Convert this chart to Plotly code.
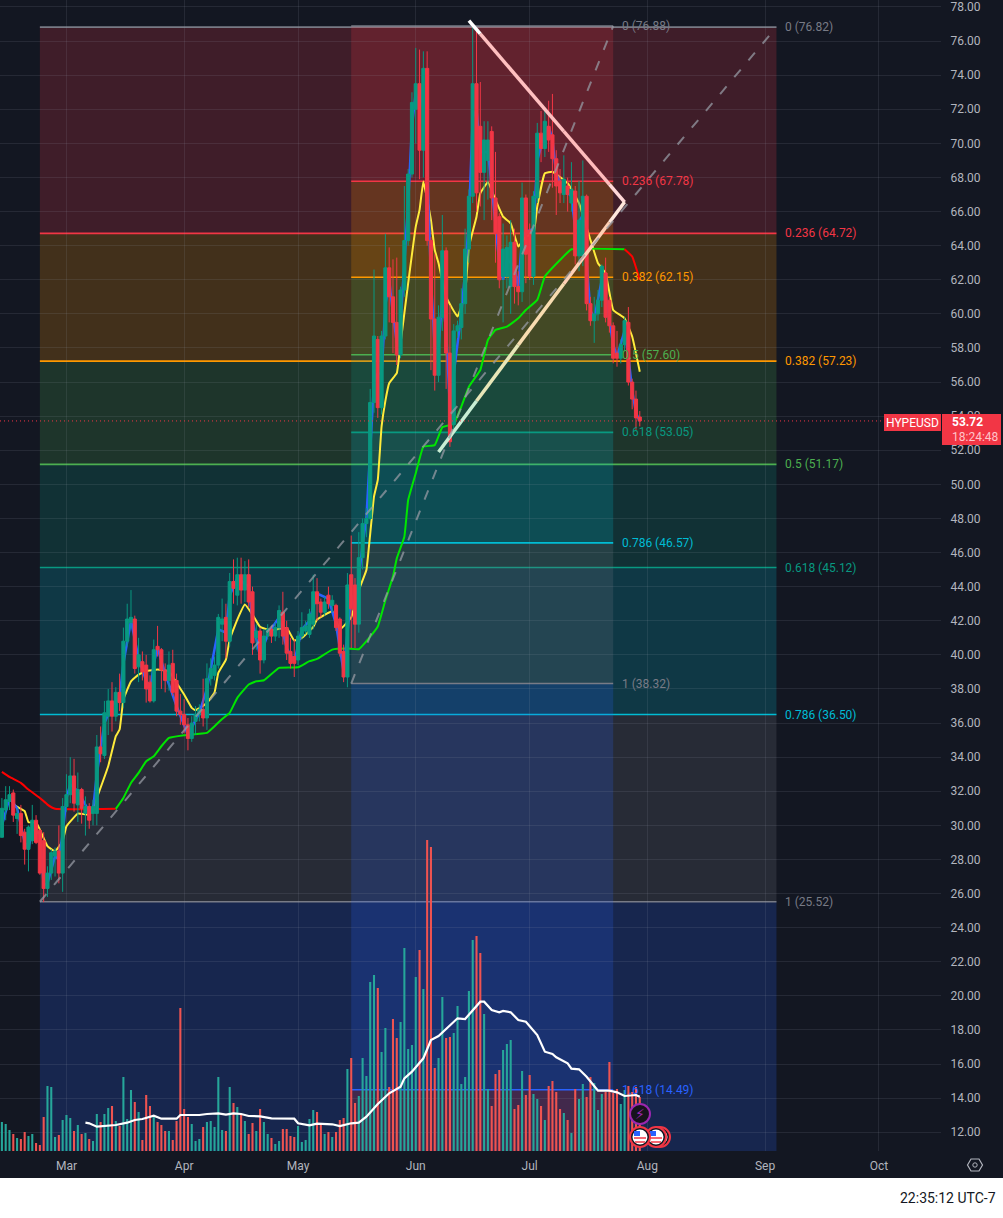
import pandas as pd
import plotly.graph_objects as go

# Daily HYPEUSD candles (Feb 12 -> Jul 30)
opens = [
    29.3, 30.9, 31.4, 31.9, 30.4, 30.7, 29.6, 28.6, 29.1, 30.3, 29.7, 29.1, 26.3, 27.2, 28.2, 28.5, 27.2,
    31.1, 31.8, 32.9, 31.2, 32.1, 30.7, 31.1, 30.7, 30.7, 34.6, 34.1, 36.4, 37.3, 36.4, 37.8, 37.2, 40.8, 41.9, 42.1, 39.3, 39.6, 39.4, 38.4, 37.3, 40.5, 40.3, 39.1, 38.5, 39.5, 38.5, 36.7,
    36.5, 35.9, 35.1, 36.1, 36.5, 36.8, 36.3, 38.6, 38.8, 39.4, 41.8, 42.2, 40.8, 44.3, 43.5, 44.7, 43.8, 44.7, 43.7, 41.0, 41.4, 39.7, 41.1, 41.5, 41.1, 41.6, 42.5, 41.6, 40.2, 39.9,
    39.7, 41.1, 41.4, 41.2, 41.8, 43.7, 43.1, 42.5, 43.5, 42.9, 42.9, 42.1, 40.2, 38.7, 44.7, 44.1, 41.8, 45.7, 47.7, 48.0, 54.8, 58.5, 54.5, 58.7, 62.7, 61.0, 59.5, 57.6, 61.4, 64.3, 68.2,
    72.0, 73.5, 69.6, 74.4, 64.3, 59.7, 56.4, 59.8, 63.7, 57.7, 53.5, 59.0, 59.2, 60.6, 63.8, 66.9, 73.5, 71.0, 68.3, 69.0, 70.7, 66.8, 65.7, 62.2, 62.2, 61.6, 64.2, 61.6, 61.3, 66.8,
    64.9, 62.2, 66.8, 70.6, 69.7, 71.0, 70.5, 69.1, 67.8, 67.0, 67.5, 66.5, 67.2, 63.4, 63.4, 66.9, 60.6, 59.6, 60.0, 60.8, 62.4, 60.8, 59.3, 57.7, 57.4, 58.2, 59.5, 56.0, 55.0, 53.95,
]
highs = [
    31.6, 32.3, 32.3, 32.1, 31.0, 31.2, 29.8, 30.0, 31.2, 30.6, 29.8, 29.6, 27.6, 28.6, 28.7, 30.0, 31.6,
    33.0, 34.0, 33.9, 33.1, 32.2, 31.7, 31.3, 31.5, 35.3, 35.8, 37.3, 38.0, 38.4, 38.1, 38.9, 41.6, 43.0, 43.8, 42.3, 41.0, 40.2, 40.0, 38.8, 40.9, 41.7, 40.4, 39.5, 40.2, 40.3, 38.9, 37.7,
    37.4, 36.3, 36.4, 37.0, 37.1, 38.6, 39.5, 39.8, 39.9, 42.4, 43.3, 43.0, 44.8, 45.6, 45.7, 45.7, 45.5, 45.6, 44.0, 41.8, 41.6, 41.5, 41.8, 41.7, 41.9, 42.9, 43.7, 42.0, 41.0, 40.9,
    41.4, 42.5, 42.0, 42.7, 44.7, 44.5, 43.3, 43.4, 44.0, 43.5, 43.0, 42.2, 40.6, 44.8, 47.0, 44.5, 47.2, 48.0, 48.6, 55.6, 62.6, 58.7, 59.0, 64.7, 63.9, 63.2, 63.3, 61.6, 67.5, 68.5, 73.0,
    75.6, 75.5, 75.4, 75.4, 64.5, 63.5, 60.5, 65.8, 63.9, 60.5, 59.4, 59.6, 61.5, 65.0, 67.3, 76.8, 76.82, 73.6, 71.3, 71.3, 71.0, 69.5, 65.9, 65.3, 64.6, 65.5, 65.0, 62.5, 67.7, 67.0,
    65.3, 67.2, 71.2, 71.9, 72.1, 72.5, 72.9, 69.6, 68.5, 69.3, 68.0, 68.9, 67.5, 67.8, 69.0, 67.0, 61.0, 61.0, 61.4, 62.9, 63.3, 61.0, 59.5, 59.0, 58.5, 59.8, 60.4, 56.2, 55.5, 54.3,
]
lows = [
    29.3, 30.3, 30.9, 30.2, 29.5, 29.0, 27.7, 27.3, 28.9, 28.9, 27.1, 25.5, 25.8, 26.8, 27.0, 26.6, 26.1,
    30.8, 31.3, 30.8, 30.2, 30.1, 29.4, 29.8, 30.0, 30.0, 33.7, 33.9, 35.3, 35.5, 36.1, 36.7, 36.9, 40.5, 41.5, 38.9, 38.4, 38.5, 37.2, 37.2, 37.2, 39.9, 38.0, 37.8, 37.9, 37.6, 36.4, 35.9,
    35.4, 34.4, 34.9, 35.3, 36.1, 35.8, 35.6, 38.2, 38.5, 39.2, 40.8, 39.8, 40.5, 43.0, 42.9, 43.0, 43.1, 42.8, 40.0, 40.3, 38.9, 39.5, 40.9, 40.7, 40.8, 41.0, 40.6, 39.7, 39.2, 38.7,
    39.4, 40.9, 41.2, 41.0, 41.5, 42.0, 42.2, 42.3, 42.7, 42.5, 41.4, 39.9, 38.4, 38.1, 40.4, 40.4, 41.3, 45.0, 46.9, 47.9, 54.2, 53.9, 54.1, 58.5, 59.5, 57.7, 57.0, 57.4, 61.0, 64.0, 68.0,
    70.0, 67.9, 68.0, 64.0, 56.7, 55.5, 56.0, 59.0, 55.6, 52.2, 53.1, 58.6, 58.5, 60.0, 63.0, 66.5, 66.0, 66.3, 65.5, 66.7, 65.5, 63.0, 61.5, 59.5, 61.5, 60.0, 60.6, 60.5, 60.7, 61.8,
    62.0, 61.7, 66.5, 68.9, 69.2, 69.5, 67.4, 65.8, 66.5, 66.5, 66.0, 66.0, 62.9, 62.5, 62.8, 60.2, 59.3, 58.3, 59.6, 60.4, 59.5, 58.9, 57.1, 56.9, 57.1, 57.8, 55.8, 54.4, 53.2, 53.4,
]
closes = [
    31.0, 31.5, 31.8, 30.6, 30.7, 29.4, 28.6, 29.9, 30.3, 29.0, 27.2, 26.3, 27.2, 28.4, 28.5, 27.2, 31.1,
    31.8, 32.9, 31.3, 32.1, 31.0, 31.1, 30.3, 31.1, 34.6, 34.2, 36.6, 37.3, 36.4, 37.8, 37.2, 40.8, 42.1, 42.2, 39.2, 40.0, 39.0, 38.0, 37.3, 40.3, 40.3, 39.1, 38.5, 39.4, 37.8, 36.7, 36.5,
    35.9, 35.1, 36.0, 36.5, 36.8, 36.3, 38.6, 39.2, 39.4, 42.2, 42.1, 40.8, 44.3, 43.9, 44.7, 43.8, 44.7, 43.1, 40.7, 41.4, 39.7, 41.1, 41.5, 41.1, 41.6, 42.6, 41.1, 40.1, 39.5, 39.5,
    41.1, 41.6, 41.7, 42.4, 43.7, 43.0, 42.5, 43.1, 43.0, 43.2, 41.6, 40.1, 38.7, 44.1, 42.7, 41.8, 45.7, 47.7, 48.0, 54.8, 58.7, 54.5, 58.7, 62.7, 61.0, 59.5, 57.6, 61.4, 64.3, 68.2, 72.4,
    73.5, 69.6, 74.4, 64.3, 59.7, 56.4, 59.8, 63.7, 57.7, 52.5, 59.0, 59.3, 60.6, 63.8, 66.9, 73.5, 67.1, 68.3, 70.2, 70.2, 66.8, 64.7, 62.0, 63.8, 63.9, 64.2, 61.6, 61.3, 66.8, 63.5,
    62.2, 66.9, 70.6, 69.7, 71.3, 70.2, 69.1, 67.5, 67.1, 67.9, 67.0, 67.3, 63.4, 65.5, 66.9, 60.6, 59.6, 60.0, 60.8, 62.8, 59.8, 59.3, 57.4, 57.4, 58.2, 59.6, 56.0, 55.0, 53.9, 53.72,
]
volumes = [
    2.9, 2.7, 2.1, 1.7, 1.3, 1.2, 1.9, 1.5, 1.7, 0.8, 0.6, 3.4, 6.5, 6.4, 1.4, 1.6, 3.1,
    3.6, 3.3, 2.0, 2.6, 1.7, 1.8, 1.2, 1.0, 3.7, 2.9, 3.7, 4.3, 4.5, 3.0, 2.5, 7.4, 3.2, 6.1, 4.9, 3.9, 1.1, 5.6, 4.5, 3.5, 2.9, 2.6, 2.0, 2.0, 1.1, 3.0, 14.3,
    4.2, 3.4, 2.7, 1.0, 1.2, 2.4, 2.9, 3.0, 2.4, 7.4, 2.1, 2.0, 6.4, 4.8, 4.4, 3.7, 3.0, 1.7, 2.8, 2.0, 4.2, 2.9, 1.7, 1.3, 0.7, 1.0, 2.2, 2.2, 1.5, 1.4,
    2.5, 0.9, 1.1, 3.2, 4.1, 3.9, 2.7, 1.7, 1.9, 1.4, 1.9, 3.1, 3.3, 8.2, 9.3, 4.8, 5.5, 9.3, 7.5, 16.9, 17.6, 16.3, 9.9, 12.3, 6.4, 13.2, 11.3, 12.9, 20.3, 10.2, 10.6,
    17.4, 20.1, 16.2, 31.1, 30.4, 8.3, 9.3, 15.4, 11.3, 11.4, 11.8, 14.5, 6.7, 7.4, 16.0, 21.1, 21.5, 19.8, 13.7, 6.2, 4.5, 7.7, 8.1, 10.1, 10.7, 11.1, 4.2, 4.6, 8.0, 5.6,
    7.6, 5.7, 5.2, 4.5, 3.1, 6.5, 7.0, 5.9, 4.2, 3.8, 3.1, 1.8, 6.2, 5.2, 6.7, 5.4, 7.4, 6.8, 4.1, 5.7, 5.9, 8.9, 5.8, 6.2, 4.7, 6.1, 6.5, 5.9, 6.4, 5.4,
]
dates = pd.date_range("2025-02-12", periods=len(closes), freq="D")

# Moving averages, read at their turning points
yellow_x = ["02-15", "02-18", "02-19", "02-21", "02-22", "02-24", "02-26", "02-28", "03-01", "03-04", "03-07", "03-09", "03-12", "03-14", "03-15", "03-16", "03-18", "03-20", "03-22", "03-25", "03-28", "03-30", "04-01", "04-03", "04-04", "04-07", "04-09", "04-10", "04-12", "04-13", "04-15", "04-17", "04-19", "04-21", "04-24", "04-28", "04-30", "05-02", "05-05", "05-06", "05-10", "05-12", "05-15", "05-17", "05-19", "05-20", "05-21", "05-22", "05-23", "05-24", "05-25", "05-27", "05-28", "05-30", "06-01", "06-02", "06-03", "06-05", "06-06", "06-07", "06-09", "06-12", "06-14", "06-15", "06-17", "06-18", "06-20", "06-22", "06-24", "06-26", "06-28", "06-30", "07-02", "07-03", "07-05", "07-07", "07-11", "07-14", "07-17", "07-19", "07-21", "07-23", "07-26", "07-28", "07-30"]
yellow_y = [31.22, 30.83, 30.18, 30.18, 29.75, 28.78, 28.48, 29.07, 29.95, 30.69, 30.63, 31.61, 33.47, 35.23, 35.62, 37.38, 38.45, 38.84, 39.04, 39.14, 39.04, 38.36, 37.67, 36.89, 36.75, 37.18, 37.8, 38.94, 39.72, 40.9, 42.07, 42.95, 42.36, 41.64, 41.44, 41.58, 40.84, 40.99, 41.64, 42.07, 42.56, 41.48, 42.2, 43.8, 44.98, 47.1, 49.28, 50.26, 53.4, 54.9, 55.93, 56.52, 58.28, 61.8, 65.12, 66.1, 67.76, 65.5, 63.75, 62.97, 61.0, 59.84, 61.21, 63.95, 65.7, 67.07, 67.72, 66.68, 65.7, 65.31, 63.95, 64.53, 64.73, 66.29, 68.25, 68.34, 67.66, 66.49, 64.34, 62.97, 62.38, 60.23, 59.74, 58.67, 56.61]

long_ma_red_x = ["02-12", "02-14", "02-17", "02-19", "02-22", "02-24", "02-26", "03-14"]
long_ma_red_y = [33.14, 32.84, 32.49, 32.1, 31.61, 31.22, 30.97, 30.97]
long_ma_green_x = ["03-14", "03-16", "03-18", "03-20", "03-22", "03-24", "03-26", "03-28", "04-01", "04-07", "04-09", "04-11", "04-13", "04-15", "04-18", "04-20", "04-22", "04-26", "05-01", "05-04", "05-06", "05-10", "05-14", "05-17", "05-20", "05-22", "05-24", "05-26", "05-27", "05-29", "05-30", "06-01", "06-03", "06-06", "06-08", "06-11", "06-13", "06-15", "06-18", "06-20", "06-22", "06-25", "06-28", "06-30", "07-03", "07-05", "07-09", "07-12", "07-26"]
long_ma_green_y = [30.97, 31.61, 32.49, 33.08, 33.76, 34.05, 34.64, 35.13, 35.29, 35.42, 35.81, 36.24, 36.6, 37.48, 38.26, 38.45, 38.51, 39.24, 39.27, 39.63, 39.76, 40.31, 40.37, 40.33, 41.07, 41.66, 43.2, 44.59, 45.66, 46.93, 49.08, 50.65, 52.21, 52.3, 53.35, 53.55, 54.56, 55.73, 56.71, 58.47, 59.06, 59.25, 59.74, 60.23, 60.82, 62.19, 63.16, 63.79, 63.79]
long_ma_end_x = ["07-26", "07-28", "07-30"]
long_ma_end_y = [63.79, 63.36, 61.99]

blue_x = ["02-12", "02-14", "02-16", "02-18", "02-19", "02-20", "02-22", "02-23", "02-24", "02-26", "02-27", "02-28", "03-01", "03-02", "03-04", "03-07", "03-08", "03-09", "03-11", "03-13", "03-15", "03-16", "03-18", "03-20", "03-23", "03-24", "03-25", "03-27", "03-30", "04-02", "04-05", "04-07", "04-10", "04-12", "04-13", "04-15", "04-18", "04-19", "04-21", "04-23", "04-26", "04-28", "04-30", "05-02", "05-04", "05-06", "05-09", "05-11", "05-13", "05-14", "05-15", "05-16", "05-17", "05-18", "05-19", "05-20", "05-21", "05-22", "05-23", "05-24", "05-25", "05-26", "05-27", "05-28", "05-29", "05-30", "05-31", "06-01", "06-02", "06-03", "06-04", "06-05", "06-06", "06-07", "06-08", "06-09", "06-10", "06-11", "06-13", "06-14", "06-15", "06-16", "06-17", "06-18", "06-19", "06-20", "06-21", "06-23", "06-24", "06-25", "06-27", "06-28", "06-29", "06-30", "07-02", "07-03", "07-05", "07-06", "07-07", "07-08", "07-10", "07-12", "07-13", "07-15", "07-16", "07-17", "07-18", "07-20", "07-21", "07-23", "07-24", "07-26", "07-27", "07-28", "07-29", "07-30"]
blue_y = [30.0, 31.6, 31.0, 29.0, 28.6, 29.8, 29.5, 26.5, 26.6, 28.2, 28.0, 29.5, 31.6, 32.4, 32.0, 30.8, 30.9, 33.0, 36.0, 37.0, 37.5, 39.5, 42.0, 39.8, 37.8, 39.5, 40.4, 38.9, 37.0, 35.3, 36.6, 38.0, 41.5, 41.3, 43.5, 44.5, 44.0, 42.0, 39.9, 41.2, 42.2, 40.4, 39.6, 41.5, 42.0, 43.6, 43.3, 41.8, 39.0, 41.5, 43.5, 42.5, 44.5, 46.5, 48.0, 52.0, 56.0, 56.5, 56.5, 60.5, 62.0, 60.0, 58.3, 59.5, 63.0, 66.5, 71.0, 73.0, 72.0, 73.5, 69.0, 62.0, 58.0, 58.0, 61.0, 59.0, 54.5, 56.5, 60.0, 62.5, 65.5, 71.5, 72.0, 69.5, 69.5, 69.5, 67.5, 63.0, 62.0, 63.2, 62.8, 61.5, 64.5, 64.8, 65.0, 69.0, 70.6, 71.0, 70.2, 68.2, 67.3, 66.9, 65.0, 65.8, 63.0, 60.2, 59.7, 62.0, 61.0, 58.2, 57.5, 59.0, 57.5, 55.5, 54.2, 53.7]

vol_ma_x = ["03-06", "03-07", "03-09", "03-14", "03-17", "03-19", "03-21", "03-24", "03-26", "03-30", "03-31", "04-05", "04-07", "04-10", "04-12", "04-14", "04-16", "04-18", "04-21", "04-24", "04-30", "05-01", "05-04", "05-06", "05-10", "05-12", "05-15", "05-17", "05-19", "05-22", "05-25", "05-28", "05-29", "05-31", "06-03", "06-05", "06-07", "06-09", "06-12", "06-14", "06-18", "06-19", "06-21", "06-23", "06-24", "06-26", "06-28", "06-30", "07-03", "07-05", "07-07", "07-08", "07-11", "07-12", "07-14", "07-16", "07-19", "07-22", "07-24", "07-26", "07-29", "07-30"]
vol_ma_y = [2.83, 2.77, 2.43, 2.6, 2.83, 3.1, 3.2, 3.53, 3.23, 3.23, 3.6, 3.6, 3.7, 3.77, 3.63, 3.77, 3.7, 3.5, 3.47, 3.27, 3.23, 2.77, 2.57, 2.73, 2.67, 2.5, 2.77, 2.83, 3.43, 4.7, 5.77, 6.43, 7.27, 7.93, 9.27, 11.1, 11.5, 12.2, 13.27, 13.2, 14.93, 14.93, 14.1, 13.87, 14.0, 13.87, 13.1, 12.93, 11.6, 9.93, 9.7, 9.37, 8.77, 8.23, 8.17, 7.43, 6.03, 6.03, 5.87, 5.5, 5.6, 5.43]

# Fibonacci retracements
fib_levels = ["0", "0.236", "0.382", "0.5", "0.618", "0.786", "1", "1.618"]
fib_colors = ["#787b86", "#f23645", "#ff9800", "#4caf50", "#089981", "#00bcd4", "#787b86", "#2962ff"]
band_colors = ["242,54,69", "255,152,0", "76,175,80", "8,153,129", "0,188,212", "120,123,134", "41,98,255", "242,54,69"]
wide_fib = [76.82, 64.72, 57.23, 51.17, 45.12, 36.50, 25.52, -6.2]
narrow_fib = [76.88, 67.78, 62.15, 57.60, 53.05, 46.57, 38.32, 14.49]
narrow_below = -24.06

# Drawn wedge, colour changes along the stroke
wedge_x = ["06-15", "06-18", "07-10", "07-22", "07-26", "07-22", "07-10", "06-28", "06-17", "06-07"]
wedge_y = [77.2, 76.42, 70.7, 67.6, 66.56, 65.36, 61.77, 58.18, 54.89, 51.9]
wedge_colors = ["#ffffff", "#ffc0c0", "#ffbcbc", "#ffd8d8", "#ffe8dc", "#ffd0b4", "#f8dcb0", "#e8e6b8", "#c8eed4"]

month_ticks = ["2025-03-01", "2025-04-01", "2025-05-01", "2025-06-01", "2025-07-01", "2025-08-01", "2025-09-01", "2025-10-01"]
month_labels = ["Mar", "Apr", "May", "Jun", "Jul", "Aug", "Sep", "Oct"]
price_ticks = list(range(12, 80, 2))

W, H = 1003, 1218
BG = "#131722"
FONT = "Roboto"
PLOT_RIGHT, PLOT_BOTTOM, STRIP_BOTTOM = 941, 1151, 1178
PRICE_RANGE = [10.9, 78.41]
WIDE_X = ("2025-02-22", "2025-09-04")
NARROW_X = ("2025-05-15", "2025-07-23")


def day(md):
    return "2025-" + md


def px(x):
    return x / W


def py(y):
    return 1 - y / H


def page_rect(x0, y0, x1, y1, fill, line=None, layer="above"):
    return dict(type="rect", xref="paper", yref="paper", x0=px(x0), x1=px(x1), y0=py(y0), y1=py(y1),
                fillcolor=fill, line=dict(width=0 if line is None else 1, color=line or fill), layer=layer)


def page_circle(cx, cy, r, fill, line, width=2):
    return dict(type="circle", xref="paper", yref="paper", x0=px(cx - r), x1=px(cx + r), y0=py(cy + r), y1=py(cy - r),
                fillcolor=fill, line=dict(color=line, width=width), layer="above")


def page_line(x0, y0, x1, y1, color, width=1):
    return dict(type="line", xref="paper", yref="paper", x0=px(x0), x1=px(x1), y0=py(y0), y1=py(y1),
                line=dict(color=color, width=width), layer="above")


def page_text(x, y, text, color, size=12, family=FONT, anchor="center"):
    return dict(x=px(x), y=py(y), xref="paper", yref="paper", text=text, showarrow=False,
                xanchor=anchor, yanchor="middle", font=dict(color=color, size=size, family=family))


fig = go.Figure()

# Volume
vol_colors = ["#26a69a" if c >= o else "#ef5350" for o, c in zip(opens, closes)]
fig.add_trace(go.Bar(x=dates, y=volumes, marker=dict(color=vol_colors, line_width=0), yaxis="y2"))
fig.add_trace(go.Scatter(x=[day(d) for d in vol_ma_x], y=vol_ma_y, mode="lines",
                         line=dict(color="#ffffff", width=2.2), yaxis="y2"))

# Indicator lines sit under the candle bodies
ma_line = dict(width=2, shape="spline", smoothing=0.3)
fig.add_trace(go.Scatter(x=[day(d) for d in yellow_x], y=yellow_y, mode="lines",
                         line=dict(color="#ffeb3b", **ma_line), yaxis="y3"))
fig.add_trace(go.Scatter(x=[day(d) for d in long_ma_red_x], y=long_ma_red_y, mode="lines",
                         line=dict(color="#ff0000", **ma_line), yaxis="y3"))
fig.add_trace(go.Scatter(x=[day(d) for d in long_ma_green_x], y=long_ma_green_y, mode="lines",
                         line=dict(color="#00e600", **ma_line), yaxis="y3"))
fig.add_trace(go.Scatter(x=[day(d) for d in long_ma_end_x], y=long_ma_end_y, mode="lines",
                         line=dict(color="#ff0000", **ma_line), yaxis="y3"))
fig.add_trace(go.Scatter(x=[day(d) for d in blue_x], y=blue_y, mode="lines",
                         line=dict(color="#2962ff", width=2.5), yaxis="y3"))

fig.add_trace(go.Candlestick(
    x=dates, open=opens, high=highs, low=lows, close=closes, yaxis="y4",
    increasing=dict(line=dict(color="#089981", width=1), fillcolor="#089981"),
    decreasing=dict(line=dict(color="#f23645", width=1), fillcolor="#f23645"),
    whiskerwidth=0,
))

# Wedge drawing
for i in range(len(wedge_x) - 1):
    fig.add_trace(go.Scatter(x=[day(wedge_x[i]), day(wedge_x[i + 1])], y=[wedge_y[i], wedge_y[i + 1]], mode="lines",
                             line=dict(color=wedge_colors[i], width=3.5), yaxis="y5"))

shapes = []
annotations = []

# Dark page with a white strip under the time axis
shapes.append(page_rect(0, 0, W, STRIP_BOTTOM, BG, layer="below"))

for x_span, levels in ((WIDE_X, wide_fib), (NARROW_X, narrow_fib)):
    x0, x1 = x_span
    for i in range(len(levels) - 1):
        shapes.append(dict(type="rect", xref="x", yref="y", x0=x0, x1=x1, y0=levels[i + 1], y1=levels[i],
                           fillcolor=f"rgba({band_colors[i]},0.2)", line_width=0, layer="below"))
    if levels is narrow_fib:
        shapes.append(dict(type="rect", xref="x", yref="y", x0=x0, x1=x1, y0=narrow_below, y1=levels[-1],
                           fillcolor=f"rgba({band_colors[-1]},0.2)", line_width=0, layer="below"))
    for i, level in enumerate(levels):
        if level < PRICE_RANGE[0]:
            continue
        shapes.append(dict(type="line", xref="x", yref="y", x0=x0, x1=x1, y0=level, y1=level,
                           line=dict(color=fib_colors[i], width=1.6), layer="below"))
        annotations.append(dict(x=x1, y=level, xref="x", yref="y", xshift=7, xanchor="left", yanchor="middle",
                                text=f"{fib_levels[i]} ({level:.2f})", showarrow=False,
                                font=dict(color=fib_colors[i], size=12, family=FONT)))

# Dashed diagonals of both retracements
shapes.append(dict(type="line", xref="x", yref="y", x0=WIDE_X[0], x1=WIDE_X[1], y0=wide_fib[6], y1=wide_fib[0],
                   line=dict(color="rgba(150,153,163,0.75)", width=2, dash="10px,12px"), layer="above"))
shapes.append(dict(type="line", xref="x", yref="y", x0=NARROW_X[0], x1=NARROW_X[1], y0=narrow_fib[6], y1=narrow_fib[0],
                   line=dict(color="rgba(150,153,163,0.75)", width=2, dash="10px,12px"), layer="above"))

# Last price line and tags
last_price = closes[-1]
shapes.append(dict(type="line", xref="paper", yref="y", x0=0, x1=px(PLOT_RIGHT), y0=last_price, y1=last_price,
                   line=dict(color="#f23645", width=1, dash="1px,3px"), layer="above"))
shapes.append(page_rect(884, 414, 941, 431, "#f23645"))
shapes.append(page_rect(942, 414, 1001, 445, "#f23645"))
annotations.append(page_text(912.5, 422.5, "HYPEUSD", "#ffffff"))
annotations.append(page_text(950, 422, f"<b>{last_price:.2f}</b>", "#ffffff", anchor="left"))
annotations.append(page_text(950, 437, "18:24:48", "#ffc4ca", anchor="left"))

# Gear icon on the time axis
gear_pts = [(967.5, 1165), (971, 1159), (979, 1159), (982.5, 1165), (979, 1171), (971, 1171)]
gear_path = "M " + " L ".join(f"{px(a):.5f},{py(b):.5f}" for a, b in gear_pts) + " Z"
shapes.append(dict(type="path", xref="paper", yref="paper", path=gear_path, line=dict(color="#b2b5be", width=1.2), layer="above"))
shapes.append(page_circle(975, 1165, 2.2, BG, "#b2b5be", 1))

# Event markers at the bottom
shapes.append(page_circle(640, 1114, 10, "#16131c", "#9c27b0"))
annotations.append(page_text(640, 1114, "⚡", "#9c27b0", size=14, family="DejaVu Sans"))
for cx in (660, 656, 640):
    shapes.append(page_circle(cx, 1137, 10, "#131722", "#f23645"))
    shapes.append(page_circle(cx, 1137, 7.5, "#ffffff", "#ffffff", 0))
    shapes.append(page_line(cx - 6, 1138, cx + 6, 1138, "#f23645", 1.5))
    shapes.append(page_line(cx - 5, 1142, cx + 5, 1142, "#f23645", 1.5))
    shapes.append(page_rect(cx - 6, 1131, cx, 1136, "#2962ff"))

annotations.append(page_text(998, 1198, "22:35:12 UTC-7", "#131722", size=14, anchor="right"))

overlay = dict(overlaying="y", visible=False, range=PRICE_RANGE, domain=[1 - PLOT_BOTTOM / H, 1])
fig.update_layout(
    width=W, height=H,
    margin=dict(l=0, r=0, t=0, b=0),
    paper_bgcolor="#ffffff",
    plot_bgcolor=BG,
    showlegend=False,
    bargap=0.45,
    boxgap=0.18,
    boxgroupgap=0,
    shapes=shapes,
    annotations=annotations,
    xaxis=dict(
        domain=[0, PLOT_RIGHT / W], type="date", range=["2025-02-11 12:00", "2025-10-17 08:00"],
        tickvals=month_ticks, ticktext=month_labels, rangeslider=dict(visible=False),
        showgrid=True, gridcolor="rgba(150,155,170,0.14)", gridwidth=1, zeroline=False, showline=False,
        ticks="outside", ticklen=4, tickcolor="rgba(0,0,0,0)",
        tickfont=dict(color="#b2b5be", size=12, family=FONT),
    ),
    yaxis=dict(
        domain=[1 - PLOT_BOTTOM / H, 1], range=PRICE_RANGE, side="right",
        tickvals=price_ticks, ticktext=[f"{v:.2f}" for v in price_ticks],
        showgrid=True, gridcolor="rgba(150,155,170,0.14)", gridwidth=1, zeroline=False, showline=False,
        ticks="outside", ticklen=6, tickcolor="rgba(0,0,0,0)",
        tickfont=dict(color="#b2b5be", size=12, family=FONT),
    ),
    yaxis2=dict(overlaying="y", visible=False, range=[0, 115.1], domain=[1 - PLOT_BOTTOM / H, 1]),
    yaxis3=overlay,
    yaxis4=overlay,
    yaxis5=overlay,
)

# The browser's default body margin would shift the whole chart by 8px
fig.write_html("out.html", config=dict(displayModeBar=False),
               post_script="document.body.style.margin = '0';")
